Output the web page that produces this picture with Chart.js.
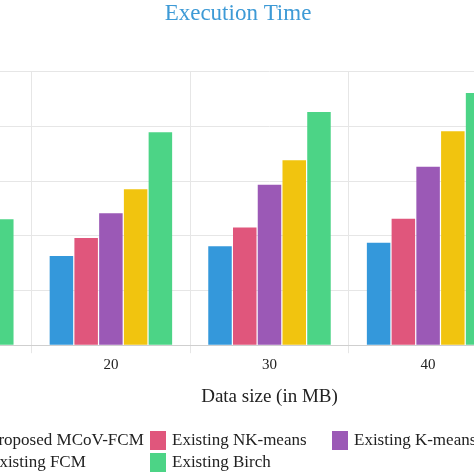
<!DOCTYPE html>
<html>
<head>
<meta charset="utf-8">
<script src="https://cdn.jsdelivr.net/npm/chart.js@4"></script>
<style>
  body { margin: 0; background: #fff; overflow: hidden; }
  #wrap { position: relative; width: 474px; height: 474px; overflow: hidden; }
  #box { position: absolute; left: -190px; top: 0; width: 856px; height: 474px; }
  #legend { position: absolute; left: 0; top: 0; font-family: "Liberation Serif", serif; font-size: 17px; color: #222; }
  .item { position: absolute; white-space: nowrap; display: flex; align-items: center; }
  .sw { width: 16px; height: 19px; margin-right: 6px; }
</style>
</head>
<body>
<div id="wrap">
  <div id="box"><canvas id="chart" width="856" height="474"></canvas></div>
  <div id="legend"></div>
</div>
<script>
const categories = ['10', '20', '30', '40', '50'];
const seriesNames = ['Proposed MCoV-FCM', 'Existing NK-means', 'Existing K-means', 'Existing FCM', 'Existing Birch'];
const proposed = [1.2, 1.63, 1.81, 1.87, 2.1];
const nkMeans = [1.45, 1.96, 2.15, 2.31, 2.6];
const kMeans = [1.75, 2.41, 2.93, 3.26, 3.6];
const fcm = [2.0, 2.85, 3.38, 3.91, 4.3];
const birch = [2.3, 3.89, 4.26, 4.61, 4.9];
const colors = ['#3498db', '#e0567c', '#9b59b6', '#f1c40f', '#4cd486'];

const values = [proposed, nkMeans, kMeans, fcm, birch];

new Chart(document.getElementById('chart'), {
    type: 'bar',
    data: {
        labels: categories,
        datasets: seriesNames.map((name, i) => ({
            label: name,
            data: values[i],
            backgroundColor: colors[i],
            categoryPercentage: 0.78,
            barPercentage: 0.95
        }))
    },
    options: {
        responsive: false,
        animation: false,
        layout: { padding: { bottom: 62, right: 0 } },
        plugins: {
            legend: { display: false },
            title: {
                display: true,
                text: 'Execution Time',
                color: '#3d9ad6',
                font: { family: 'Liberation Serif', size: 23, weight: 'normal' },
                padding: { top: 0, bottom: 44 }
            }
        },
        scales: {
            x: {
                grid: { color: '#e6e6e6' },
                border: { color: '#cfcfcf' },
                ticks: { color: '#222', font: { family: 'Liberation Serif', size: 15 } },
                title: {
                    display: true,
                    text: 'Data size (in MB)',
                    color: '#222',
                    font: { family: 'Liberation Serif', size: 19 },
                    padding: { top: 8 }
                }
            },
            y: {
                min: 0, max: 5,
                ticks: { stepSize: 1, display: false },
                grid: { color: '#e6e6e6' },
                border: { display: false },
                afterFit: s => { s.width = 63; }
            }
        }
    }
});

// legend laid out as in the source figure (3 per row)
const cols = [-33, 150, 332];
const legend = document.getElementById('legend');
seriesNames.forEach((name, i) => {
    const el = document.createElement('div');
    el.className = 'item';
    el.style.left = cols[i % 3] + 'px';
    el.style.top = (430 + Math.floor(i / 3) * 22) + 'px';
    el.innerHTML = '<span class="sw" style="background:' + colors[i] + '"></span>' + name;
    legend.appendChild(el);
});
</script>
</body>
</html>
